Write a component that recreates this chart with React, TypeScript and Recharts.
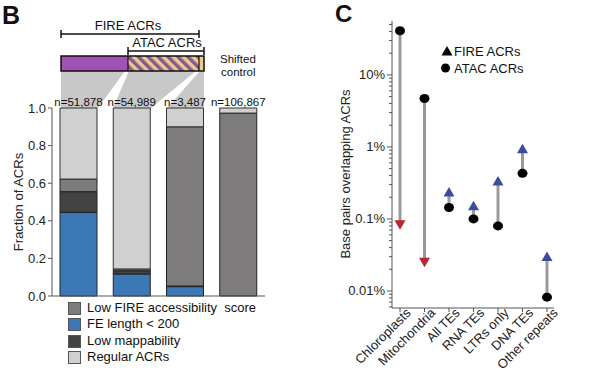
import {
  Bar,
  BarChart,
  ComposedChart,
  ErrorBar,
  LabelList,
  Line,
  XAxis,
  YAxis,
} from 'recharts';

// Panel B: composition of ACR groups
const groups = ['FIRE only', 'FIRE + ATAC', 'ATAC only', 'Shifted control'];
const groupCounts = ['n=51,878', 'n=54,989', 'n=3,487', 'n=106,867'];
const feLengthShare = [0.445, 0.117, 0.05, 0];
const lowMappabilityShare = [0.11, 0.017, 0.003, 0];
const lowFireShare = [0.067, 0.01, 0.847, 0.973];
const regularShare = [0.378, 0.856, 0.1, 0.027];
const fractionTicks = [0, 0.2, 0.4, 0.6, 0.8, 1];

// Panel C: base pairs overlapping ACRs (percent)
const repeatClasses = [
  'Chloroplasts',
  'Mitochondria',
  'All TEs',
  'RNA TEs',
  'LTRs only',
  'DNA TEs',
  'Other repeats',
];
const atacOverlap = [41, 4.7, 0.144, 0.1, 0.08, 0.43, 0.0082];
const fireOverlap = [0.083, 0.025, 0.237, 0.153, 0.337, 0.94, 0.03];
const majorLogTicks = [0.01, 0.1, 1, 10];
const logTicks = [
  0.006, 0.007, 0.008, 0.009, 0.01, 0.02, 0.03, 0.04, 0.05, 0.06, 0.07, 0.08, 0.09,
  0.1, 0.2, 0.3, 0.4, 0.5, 0.6, 0.7, 0.8, 0.9, 1, 2, 3, 4, 5, 6, 7, 8, 9, 10, 20, 30,
  40, 50,
];

const FONT = '"Liberation Sans", Arial, sans-serif';
const BLUE = '#3d78b6';
const DARK = '#434343';
const MID = '#7d7b7b';
const LIGHT = '#d0d0d0';

const legendItems = [
  { label: 'Low FIRE accessibility  score', color: MID },
  { label: 'FE length < 200', color: BLUE },
  { label: 'Low mappability', color: DARK },
  { label: 'Regular ACRs', color: LIGHT },
];

const barData = groups.map((group, i) => ({
  group,
  n: groupCounts[i],
  feLength: feLengthShare[i],
  lowMap: lowMappabilityShare[i],
  lowFire: lowFireShare[i],
  regular: regularShare[i],
}));

const overlapData = repeatClasses.map((name, i) => {
  const atac = atacOverlap[i];
  const fire = fireOverlap[i];
  return {
    name,
    atac,
    fire,
    stem: fire < atac ? [atac - fire, 0] : [0, fire - atac],
  };
});

function formatPercent(value: number) {
  return `${value}%`;
}

function LogTick(props: any) {
  const { x, y, payload } = props;
  const major = majorLogTicks.includes(payload.value);
  const len = major ? 5 : 3;
  return (
    <g>
      <line x1={x - len} x2={x} y1={y} y2={y} stroke="#555" />
      {major && (
        <text x={x - 7} y={y} dy={4.5} textAnchor="end" fontSize={13} fill="#222">
          {formatPercent(payload.value)}
        </text>
      )}
    </g>
  );
}

function RotatedTick(props: any) {
  const { x, y, payload } = props;
  return (
    <g transform={`translate(${x + 5},${y - 7}) rotate(-45)`}>
      <text x={0} y={0} dy={9.5} textAnchor="end" fontSize={13} fill="#222">
        {payload.value}
      </text>
    </g>
  );
}

function AtacDot(props: any) {
  const { cx, cy } = props;
  return <ellipse cx={cx} cy={cy} rx={5} ry={4.5} fill="#000" />;
}

function FireDot(props: any) {
  const { cx, cy, payload } = props;
  const down = payload.fire < payload.atac;
  const points = down
    ? `${cx - 5.5},${cy - 4.5} ${cx + 5.5},${cy - 4.5} ${cx},${cy + 5}`
    : `${cx - 5.5},${cy + 4.5} ${cx + 5.5},${cy + 4.5} ${cx},${cy - 5}`;
  return <polygon points={points} fill={down ? '#bb2530' : '#3a4c9e'} />;
}

function Overlay() {
  return (
    <svg width={601} height={373} style={{ position: 'absolute', left: 0, top: 0 }}>
      <defs>
        <pattern
          id="hatch"
          width={7}
          height={7}
          patternUnits="userSpaceOnUse"
          patternTransform="rotate(-45)"
        >
          <rect width={7} height={7} fill="#ecc98c" />
          <rect width={3.5} height={7} fill="#86598f" />
        </pattern>
      </defs>
      <text x={2} y={24} fontSize={25} fontWeight="bold" fill="#111">B</text>
      <text x={335} y={22} fontSize={24} fontWeight="bold" fill="#111">C</text>

      {/* group brackets */}
      <text x={128} y={30} fontSize={13} textAnchor="middle" fill="#111">FIRE ACRs</text>
      <line x1={61} x2={199} y1={34} y2={34} stroke="#111" strokeWidth={1.5} />
      <line x1={61} x2={61} y1={30} y2={38} stroke="#111" strokeWidth={1.5} />
      <line x1={199} x2={199} y1={30} y2={38} stroke="#111" strokeWidth={1.5} />
      <text x={167} y={47} fontSize={13} textAnchor="middle" fill="#111">ATAC ACRs</text>
      <line x1={128} x2={204} y1={51} y2={51} stroke="#111" strokeWidth={1.5} />
      <line x1={128} x2={128} y1={47} y2={55} stroke="#111" strokeWidth={1.5} />
      <line x1={204} x2={204} y1={47} y2={55} stroke="#111" strokeWidth={1.5} />

      {/* connectors from overlap bar to stacked bars */}
      <polygon points="61,71 125,71 98,108 61,108" fill="#c8c8c8" />
      <polygon points="129,71 196,71 151,108 113,108" fill="#c8c8c8" />
      <polygon points="200,71 204,71 204,108 167,108" fill="#c8c8c8" />

      <rect x={61} y={56} width={67} height={15} fill="#a152b5" />
      <rect x={128} y={56} width={71} height={15} fill="url(#hatch)" />
      <rect x={199} y={56} width={5} height={15} fill="#ecc98c" />
      <rect x={61} y={56} width={143} height={15} fill="none" stroke="#111" strokeWidth={1.5} />
      <line x1={128} x2={128} y1={56} y2={71} stroke="#111" strokeWidth={1.2} />
      <line x1={199} x2={199} y1={56} y2={71} stroke="#111" strokeWidth={1.2} />
      <text x={220} y={63} fontSize={11.5} fill="#111">Shifted</text>
      <text x={221} y={76} fontSize={11.5} fill="#111">control</text>

      <text
        transform="translate(23,202) rotate(-90)"
        fontSize={13}
        textAnchor="middle"
        fill="#222"
      >
        Fraction of ACRs
      </text>
      <text
        transform="translate(350,174) rotate(-90)"
        fontSize={13}
        textAnchor="middle"
        fill="#222"
      >
        Base pairs overlapping ACRs
      </text>

      {/* panel C legend */}
      <polygon points="441.5,55.5 452.5,55.5 447,46" fill="#000" />
      <text x={454} y={56} fontSize={13} fill="#111">FIRE ACRs</text>
      <circle cx={445.5} cy={68} r={4.5} fill="#000" />
      <text x={454} y={73} fontSize={13} fill="#111">ATAC ACRs</text>
    </svg>
  );
}

export default function App() {
  return (
    <div
      style={{
        position: 'absolute',
        left: 0,
        top: 0,
        width: 601,
        height: 373,
        background: '#fff',
        fontFamily: FONT,
        overflow: 'hidden',
      }}
    >
      <Overlay />

      <div style={{ position: 'absolute', left: 0, top: 0 }}>
        <BarChart
          width={300}
          height={373}
          data={barData}
          margin={{ top: 108, right: 35, bottom: 67, left: 12 }}
          barSize={37}
        >
          <XAxis dataKey="group" height={10} tick={false} tickLine={false} stroke="#555" />
          <YAxis
            width={40}
            domain={[0, 1]}
            ticks={fractionTicks}
            tickFormatter={(v: number) => v.toFixed(1)}
            tick={{ fontSize: 13, fill: '#222' }}
            tickSize={4}
            tickMargin={2}
            stroke="#555"
          />
          <Bar dataKey="feLength" stackId="a" fill={BLUE} stroke="#222" isAnimationActive={false} />
          <Bar dataKey="lowMap" stackId="a" fill={DARK} stroke="#222" isAnimationActive={false} />
          <Bar dataKey="lowFire" stackId="a" fill={MID} stroke="#222" isAnimationActive={false} />
          <Bar dataKey="regular" stackId="a" fill={LIGHT} stroke="#333" isAnimationActive={false}>
            <LabelList dataKey="n" position="top" offset={2} fontSize={11.5} fill="#111" />
          </Bar>
        </BarChart>
      </div>

      <div
        style={{
          position: 'absolute',
          left: 68,
          top: 300,
          fontSize: 13,
          lineHeight: '16.4px',
          color: '#111',
        }}
      >
        {legendItems.map((item) => (
          <div key={item.label} style={{ display: 'flex', alignItems: 'center', whiteSpace: 'pre' }}>
            <span
              style={{
                display: 'inline-block',
                width: 11,
                height: 11,
                background: item.color,
                border: '1px solid #555',
                marginRight: 6,
              }}
            />
            {item.label}
          </div>
        ))}
      </div>

      <div style={{ position: 'absolute', left: 300, top: 0 }}>
        <ComposedChart
          width={301}
          height={373}
          data={overlapData}
          margin={{ top: 21, right: 47, bottom: 0, left: 32 }}
        >
          <XAxis
            dataKey="name"
            scale="point"
            padding={{ left: 8, right: 7 }}
            height={65}
            interval={0}
            tickSize={4}
            tickMargin={2}
            tick={<RotatedTick />}
            stroke="#555"
          />
          <YAxis
            width={60}
            scale="log"
            domain={[0.0058, 56]}
            allowDataOverflow
            ticks={logTicks}
            interval={0}
            tickSize={0}
            tickMargin={0}
            tickLine={false}
            tick={<LogTick />}
            stroke="#555"
          />
          <Line
            dataKey="atac"
            stroke="none"
            isAnimationActive={false}
            activeDot={false}
            dot={(p: any) => <AtacDot key={`a${p.index}`} {...p} />}
          >
            <ErrorBar
              dataKey="stem"
              direction="y"
              width={0}
              stroke="#9a9a9a"
              strokeWidth={3}
              isAnimationActive={false}
            />
          </Line>
          <Line
            dataKey="fire"
            stroke="none"
            isAnimationActive={false}
            activeDot={false}
            dot={(p: any) => <FireDot key={`f${p.index}`} {...p} />}
          />
        </ComposedChart>
      </div>
    </div>
  );
}
